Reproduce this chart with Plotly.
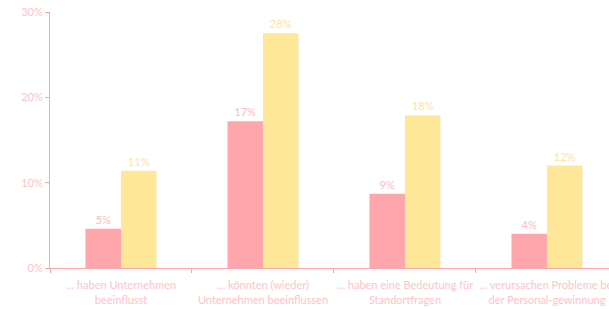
import plotly.graph_objects as go

categories = [
    "… haben Unternehmen<br>beeinflusst",
    "… könnten (wieder)<br>Unternehmen beeinflussen",
    "… haben eine Bedeutung für<br>Standortfragen",
    "… verursachen Probleme bei<br>der Personal-gewinnung",
]
series_a = [4.6, 17.2, 8.7, 4.0]
series_b = [11.4, 27.5, 17.9, 12.0]
y_ticks = [0, 10, 20, 30]
y_tick_labels = ["0%", "10%", "20%", "30%"]

pink = "#ffa6ad"
yellow = "#ffe799"
axis_col = "#ffa6ad"
text_col = "#ffc4c9"
font_family = "Lato"

fig = go.Figure()
fig.add_bar(
    x=categories, y=series_a, marker_color=pink, marker_line_width=0,
    text=[f"{round(v)}%" for v in series_a], textposition="outside",
    textfont=dict(color="#ffbcc2", size=11, family=font_family), cliponaxis=False, name="A",
)
fig.add_bar(
    x=categories, y=series_b, marker_color=yellow, marker_line_width=0,
    text=[f"{round(v)}%" for v in series_b], textposition="outside",
    textfont=dict(color="#ffe699", size=11, family=font_family), cliponaxis=False, name="B",
)
fig.update_layout(
    width=609, height=309,
    margin=dict(l=50, r=0, t=12, b=41),
    paper_bgcolor="white", plot_bgcolor="white",
    barmode="group", bargap=0.5, bargroupgap=0,
    showlegend=False, hovermode=False,
    font=dict(family=font_family, size=11, color=text_col),
)
fig.update_xaxes(
    range=[-0.5, 3.437], showline=True, linecolor=axis_col, linewidth=1,
    ticks="outside", tickson="boundaries", ticklen=4, tickcolor=axis_col,
    showgrid=False, tickfont=dict(color=text_col, size=11, family=font_family),
    fixedrange=True, tickangle=0, automargin=False,
    ticklabeloverflow="allow", ticklabelstandoff=7,
)
fig.update_yaxes(
    range=[0, 30], tickvals=y_ticks, ticktext=y_tick_labels,
    showline=True, linecolor=axis_col, linewidth=1, ticks="outside",
    ticklen=4, tickcolor=axis_col, showgrid=False, zeroline=False,
    tickfont=dict(color=text_col, size=11, family=font_family),
    fixedrange=True, automargin=False, ticklabeloverflow="allow",
)
fig.write_html(
    "out.html",
    config={"displayModeBar": False, "staticPlot": True},
    post_script="document.body.style.margin='0';document.body.style.overflow='hidden';",
)
